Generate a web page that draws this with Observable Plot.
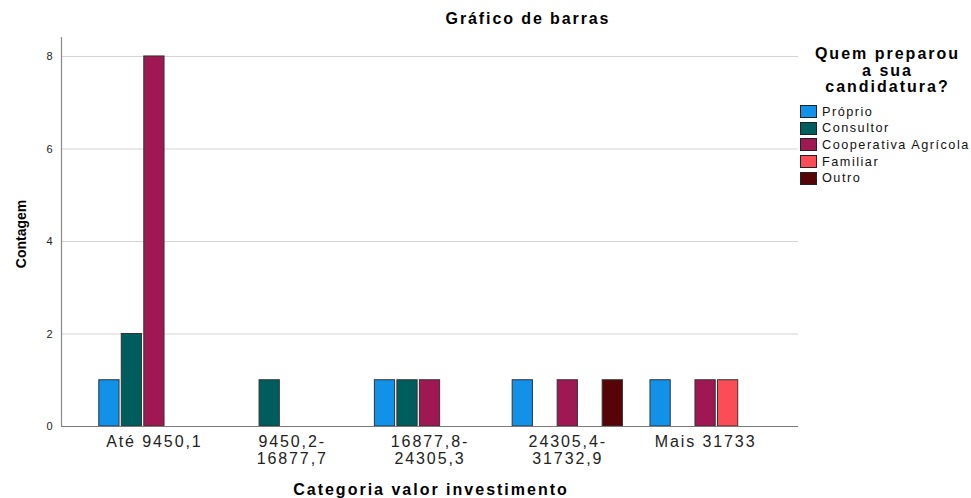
<!DOCTYPE html>
<html><head><meta charset="utf-8">
<script src="https://cdn.jsdelivr.net/npm/d3@7"></script>
<script src="https://cdn.jsdelivr.net/npm/@observablehq/plot@0.6"></script>
<style>
body{margin:0;background:#fff;font-family:"Liberation Sans",Arial,sans-serif;}
#wrap{position:relative;width:971px;height:498px;overflow:hidden;background:#fff}
#wrap svg{position:absolute;left:0;top:0}
.lbl{position:absolute;white-space:nowrap;color:#000;font-weight:bold}
#title{left:0;width:1056px;top:10px;text-align:center;font-size:16px;letter-spacing:1.9px}
#xlab{left:0;width:862px;top:481px;text-align:center;font-size:16px;letter-spacing:2px}
#ylab{left:21px;top:234px;font-size:14px;transform:translate(-50%,-50%) rotate(-90deg)}
#legend{position:absolute;left:800px;top:46px;width:171px}
#ltitle{text-align:center;font-weight:bold;font-size:16px;line-height:16.5px;letter-spacing:2px;margin-left:4px;color:#000}
.item{display:flex;align-items:center;height:16.6px;font-size:12.7px;letter-spacing:1.5px;color:#111}
.sw{width:15px;height:11px;border:1px solid #222;margin-right:5px;flex:none}
g[aria-label="fx-axis tick label"] text{letter-spacing:1.9px}
</style></head><body><div id="wrap"></div>
<script>
const categories = ["Até 9450,1", "9450,2-\n16877,7", "16877,8-\n24305,3", "24305,4-\n31732,9", "Mais 31733"];
const series = ["Próprio", "Consultor", "Cooperativa Agrícola", "Familiar", "Outro"];
const colors = ["#1192e8", "#005d5d", "#9f1853", "#fa4d56", "#570408"];
// counts per category, one array per series
const proprio     = [1, 0, 1, 1, 1];
const consultor   = [2, 1, 1, 0, 0];
const cooperativa = [8, 0, 1, 1, 1];
const familiar    = [0, 0, 0, 0, 1];
const outro       = [0, 0, 0, 1, 0];
const yTicks = [0, 2, 4, 6, 8];
const yDomain = [0, 8.41];

const seriesValues = [proprio, consultor, cooperativa, familiar, outro];
const data = [];
categories.forEach((c, i) => series.forEach((s, j) => {
  const v = seriesValues[j][i];
  if (v > 0) data.push({category: c, series: s, count: v});
}));

const common = {
  width: 971, height: 498,
  marginLeft: 61, marginRight: 173, marginTop: 37, marginBottom: 72,
  style: {fontFamily: '"Liberation Sans", Arial, sans-serif', background: "transparent", color: "#222"}
};

// background: grid, axis line, y tick labels
const back = Plot.plot({
  ...common,
  x: {domain: [0, 1], axis: null},
  y: {domain: yDomain, axis: null},
  marks: [
    Plot.ruleY(yTicks.filter(d => d > 0), {stroke: "#d4d4d4", strokeWidth: 1}),
    Plot.ruleX([0], {stroke: "#8a8a8a", strokeWidth: 1.2}),
    Plot.axisY(yTicks, {tickSize: 0, tickPadding: 9, fontSize: 11, label: null, fill: "#222"})
  ]
});

// foreground: grouped bars
const chart = Plot.plot({
  ...common,
  fx: {domain: categories, paddingInner: 0.1836, paddingOuter: 0.266, round: false, label: null},
  x: {domain: series, paddingInner: 0.1, paddingOuter: 0.05, round: false, axis: null},
  y: {domain: yDomain, axis: null},
  color: {domain: series, range: colors},
  marks: [
    Plot.barY(data, {fx: "category", x: "series", y: "count", fill: "series", stroke: "#333", strokeWidth: 1}),
    Plot.axisFx({anchor: "bottom", tickSize: 0, tickPadding: 8, fontSize: 16, lineHeight: 1.08, label: null, fill: "#222"})
  ]
});

const base = Plot.plot({
  ...common,
  x: {domain: [0, 1], axis: null},
  y: {domain: yDomain, axis: null},
  marks: [Plot.ruleY([0], {stroke: "#7a7a7a", strokeWidth: 1.2})]
});

const wrap = document.getElementById("wrap");
wrap.appendChild(back);
wrap.appendChild(chart);
wrap.appendChild(base);

const add = (id, html) => { const d = document.createElement("div"); d.id = id; d.className = "lbl"; d.innerHTML = html; wrap.appendChild(d); return d; };
add("title", "Gráfico de barras");
add("xlab", "Categoria valor investimento");
add("ylab", "Contagem");

const color = chart.scale("color");
const legend = document.createElement("div");
legend.id = "legend";
const lt = document.createElement("div");
lt.id = "ltitle";
lt.innerHTML = "Quem preparou<br>a sua<br>candidatura?";
legend.appendChild(lt);
const spacer = document.createElement("div"); spacer.style.height = "8px"; legend.appendChild(spacer);
color.domain.forEach((s, i) => {
  const it = document.createElement("div"); it.className = "item";
  const sw = document.createElement("span"); sw.className = "sw"; sw.style.background = color.range[i];
  const tx = document.createElement("span"); tx.textContent = s;
  it.appendChild(sw); it.appendChild(tx); legend.appendChild(it);
});
wrap.appendChild(legend);
</script></body></html>
